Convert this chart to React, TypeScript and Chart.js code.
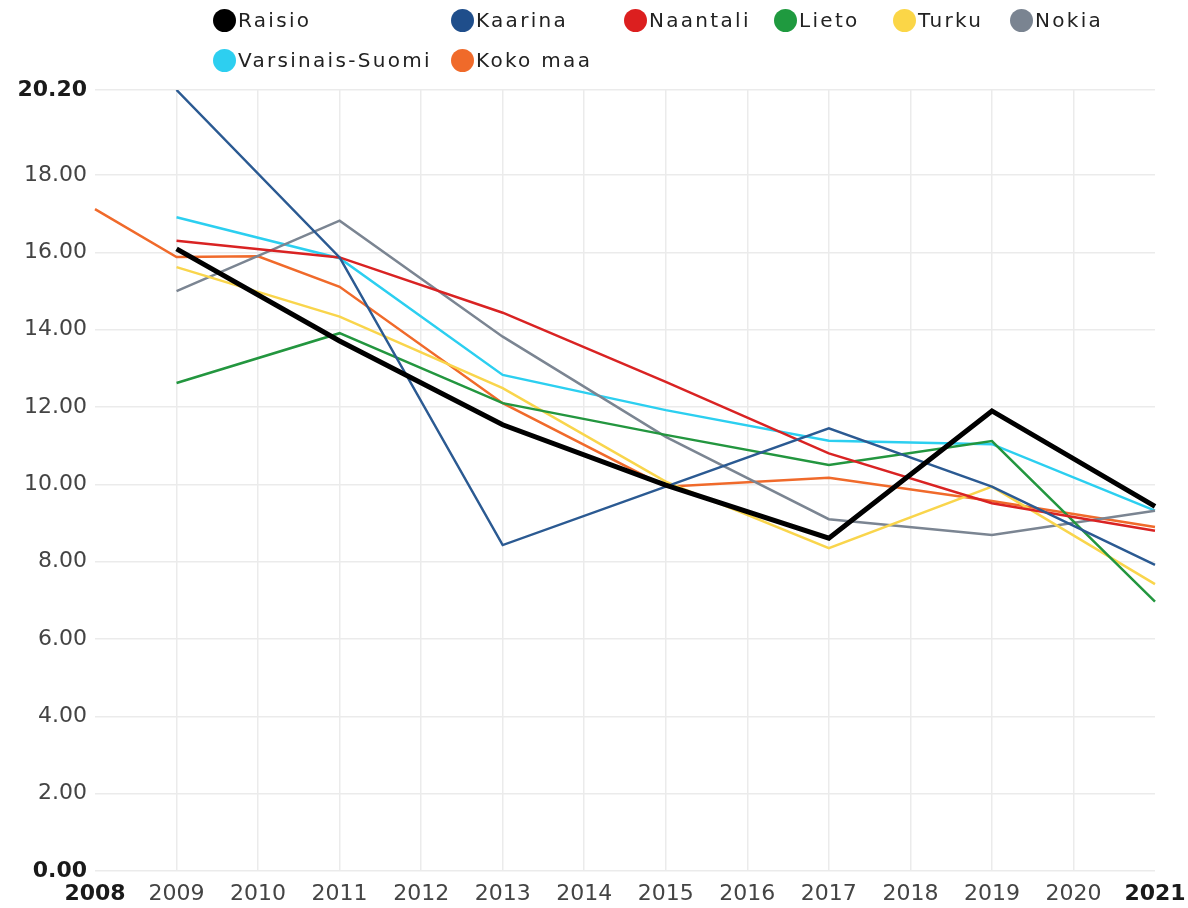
import React, { useEffect, useRef } from "react";
import { Chart, registerables } from "chart.js";

Chart.register(...registerables);

const years = ["2008", "2009", "2010", "2011", "2012", "2013", "2014", "2015", "2016", "2017", "2018", "2019", "2020", "2021"];

const raisio = [null, 16.09, null, 13.71, null, 11.54, null, 9.98, null, 8.61, null, 11.9, null, 9.43];
const kaarina = [null, 20.2, null, 15.87, null, 8.43, null, 9.94, null, 11.45, null, 9.94, null, 7.92];
const naantali = [null, 16.3, null, 15.87, null, 14.44, null, 12.65, null, 10.8, null, 9.51, null, 8.8];
const lieto = [null, 12.62, null, 13.91, null, 12.1, null, 11.28, null, 10.5, null, 11.12, null, 6.97];
const turku = [null, 15.62, null, 14.34, null, 12.49, null, 10.07, null, 8.35, null, 9.94, null, 7.42];
const nokia = [null, 15.0, null, 16.82, null, 13.82, null, 11.23, null, 9.1, null, 8.69, null, 9.32];
const varsinaisSuomi = [null, 16.91, null, 15.85, null, 12.83, null, 11.92, null, 11.13, null, 11.04, null, 9.32];
const kokoMaa = [17.12, 15.88, 15.9, 15.11, null, 12.1, null, 9.94, null, 10.17, null, 9.57, null, 8.9];

const yTicks = [0, 2, 4, 6, 8, 10, 12, 14, 16, 18, 20.2];

const seriesNames = ["Raisio", "Kaarina", "Naantali", "Lieto", "Turku", "Nokia", "Varsinais-Suomi", "Koko maa"];
const seriesData = [raisio, kaarina, naantali, lieto, turku, nokia, varsinaisSuomi, kokoMaa];
const seriesColors = ["#000000", "#2b5a92", "#d92323", "#23963f", "#f9d54c", "#7b8592", "#2ccff0", "#f06a2b"];
const legendColors = ["#000000", "#1f4e8b", "#dc1f1f", "#1f9a3f", "#fbd647", "#7a8491", "#2dcff0", "#f06a2a"];
const seriesWidths = [5, 2.5, 2.5, 2.5, 2.5, 2.5, 2.5, 2.5];

const FONT = "'DejaVu Sans', sans-serif";

export default function App() {
  const canvasRef = useRef<HTMLCanvasElement | null>(null);

  useEffect(() => {
    if (!canvasRef.current) return;
    const chart = new Chart(canvasRef.current, {
      type: "line",
      data: {
        labels: years,
        datasets: seriesNames.map((name, i) => ({
          label: name,
          data: seriesData[i],
          borderColor: seriesColors[i],
          backgroundColor: seriesColors[i],
          borderWidth: seriesWidths[i],
          pointRadius: 0,
          pointHoverRadius: 0,
          tension: 0,
          spanGaps: true,
          fill: false,
        })),
      },
      options: {
        animation: false,
        responsive: false,
        devicePixelRatio: 1,
        layout: { padding: { top: 90, right: 33, bottom: 0, left: 0 } },
        plugins: { legend: { display: false }, tooltip: { enabled: false } },
        scales: {
          x: {
            type: "category",
            offset: false,
            border: { display: false },
            grid: {
              drawTicks: false,
              color: (ctx: any) => (ctx.index === 0 || ctx.index === years.length - 1 ? "rgba(0,0,0,0)" : "#ebebeb"),
              lineWidth: 1.5,
            },
            ticks: {
              autoSkip: false,
              maxRotation: 0,
              padding: 10,
              color: (ctx: any) => (ctx.index === 0 || ctx.index === years.length - 1 ? "#1a1a1a" : "#444444"),
              font: (ctx: any) => ({
                family: FONT,
                size: 22,
                weight: ctx.index === 0 || ctx.index === years.length - 1 ? "bold" : "normal",
              }),
            },
            afterFit: (scale: any) => {
              scale.height = 37;
              scale.paddingLeft = 0;
              scale.paddingRight = 0;
            },
          },
          y: {
            type: "linear",
            min: 0,
            max: 20.2,
            border: { display: false },
            grid: { drawTicks: false, color: "#ebebeb", lineWidth: 1.5 },
            afterBuildTicks: (scale: any) => {
              scale.ticks = yTicks.map((v) => ({ value: v }));
            },
            ticks: {
              padding: 8,
              callback: (v: any) => Number(v).toFixed(2),
              color: (ctx: any) => (ctx.index === 0 || ctx.index === yTicks.length - 1 ? "#1a1a1a" : "#444444"),
              font: (ctx: any) => ({
                family: FONT,
                size: 22,
                weight: ctx.index === 0 || ctx.index === yTicks.length - 1 ? "bold" : "normal",
              }),
            },
            afterFit: (scale: any) => {
              scale.width = 95;
            },
          },
        },
      },
    });
    return () => chart.destroy();
  }, []);

  const colWidths = "238px 173px 150px 119px 117px auto";

  return (
    <div style={{ position: "absolute", left: 0, top: 0, width: 1188, height: 908, background: "#fff" }}>
      <canvas ref={canvasRef} width={1188} height={908} style={{ position: "absolute", left: 0, top: 0, width: 1188, height: 908 }} />
      <div
        style={{
          position: "absolute",
          left: 213,
          top: 0,
          display: "grid",
          gridTemplateColumns: colWidths,
          gridAutoRows: "40px",
          fontFamily: FONT,
          fontSize: 20,
          letterSpacing: "2.3px",
          color: "#222",
        }}
      >
        {seriesNames.map((name, i) => (
          <div key={name} style={{ display: "flex", alignItems: "center", whiteSpace: "nowrap" }}>
            <span
              style={{
                display: "inline-block",
                width: 23,
                height: 23,
                borderRadius: "50%",
                background: legendColors[i],
                marginRight: 2,
                flex: "none",
              }}
            />
            <span>{name}</span>
          </div>
        ))}
      </div>
    </div>
  );
}
